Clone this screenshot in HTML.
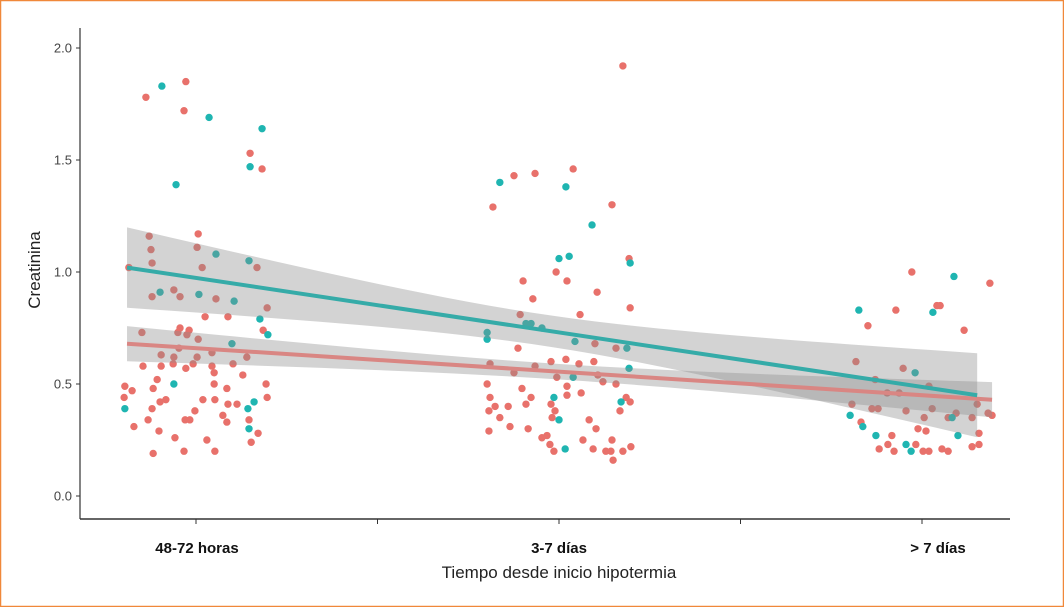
<!DOCTYPE html>
<html><head><meta charset="utf-8"><style>
html,body{margin:0;padding:0;background:#fff;}
svg{display:block;font-family:"Liberation Sans","DejaVu Sans",sans-serif;}
</style></head><body>
<svg id="chart" width="1064" height="607" viewBox="0 0 1064 607" xmlns="http://www.w3.org/2000/svg">
<rect x="0.5" y="0.5" width="1063" height="606" fill="#fff" stroke="#f0883a" stroke-width="1.5"/>
<g id="pts"></g>
<g id="bands"></g>
<g id="lines"></g>
<g id="axes"></g>
<text x="40" y="270" transform="rotate(-90 40 270)" text-anchor="middle" font-size="17" fill="#222">Creatinina</text>
<text x="559" y="578" text-anchor="middle" font-size="17" fill="#222">Tiempo desde inicio hipotermia</text>
</svg>
<script>
const categories = ["48-72 horas", "3-7 días", "> 7 días"];
const yTicks = [0.0, 0.5, 1.0, 1.5, 2.0];
const ptsX = [0.862,0.906,0.972,0.967,1.036,1.182,1.149,1.149,1.182,0.945,1.006,0.871,1.003,0.876,1.055,1.146,1.168,0.879,1.017,0.815,0.879,0.901,0.939,0.956,1.008,1.055,1.105,1.196,1.025,1.088,1.176,1.185,1.198,0.851,0.956,0.950,0.981,0.975,1.006,1.099,0.953,1.044,0.904,1.003,1.140,0.939,0.854,0.904,0.937,0.972,0.992,1.044,1.102,1.050,1.129,0.893,1.050,0.939,1.193,0.804,0.882,0.824,1.085,0.802,0.917,0.901,1.019,1.052,1.196,1.160,0.804,0.879,0.997,1.088,1.113,1.143,0.868,0.970,0.983,1.074,1.085,1.146,0.829,1.146,1.171,0.898,0.942,1.030,1.152,0.882,0.967,1.052,
2.176,2.039,1.934,1.876,1.837,2.019,1.818,2.146,2.091,2.000,2.028,2.193,2.196,1.992,2.022,1.901,2.105,1.928,2.196,1.893,2.058,1.909,1.923,1.953,1.802,1.802,1.887,2.044,2.099,2.157,2.187,1.810,1.876,1.934,1.978,2.019,2.055,2.096,2.193,1.994,2.039,2.107,2.121,2.157,1.802,1.898,2.022,2.022,2.061,1.810,1.923,1.986,2.185,1.824,1.860,1.909,1.978,2.171,2.196,1.807,1.989,2.168,1.837,1.981,2.000,2.083,1.865,1.807,1.915,2.102,1.953,1.967,2.066,2.146,1.975,1.986,2.017,2.094,2.129,2.143,2.176,2.198,2.149,
2.972,3.088,3.187,2.826,2.928,3.041,3.050,3.030,2.851,3.116,2.818,2.948,2.981,2.871,3.019,2.904,2.937,2.807,2.862,2.879,2.956,3.028,3.094,3.072,3.083,3.138,3.182,3.193,3.006,3.152,2.802,2.832,2.837,2.989,3.011,2.873,2.917,3.099,3.157,2.906,2.983,2.956,2.882,2.923,2.970,3.003,3.019,3.055,3.072,3.138,3.157];
const ptsY = [1.78,1.83,1.85,1.72,1.69,1.64,1.53,1.47,1.46,1.39,1.17,1.16,1.11,1.10,1.08,1.05,1.02,1.04,1.02,1.02,0.89,0.91,0.92,0.89,0.90,0.88,0.87,0.84,0.80,0.80,0.79,0.74,0.72,0.73,0.75,0.73,0.74,0.72,0.70,0.68,0.66,0.64,0.63,0.62,0.62,0.62,0.58,0.58,0.59,0.57,0.59,0.58,0.59,0.55,0.54,0.52,0.50,0.50,0.50,0.49,0.48,0.47,0.48,0.44,0.43,0.42,0.43,0.43,0.44,0.42,0.39,0.39,0.38,0.41,0.41,0.39,0.34,0.34,0.34,0.36,0.33,0.34,0.31,0.30,0.28,0.29,0.26,0.25,0.24,0.19,0.20,0.20,
1.92,1.46,1.44,1.43,1.40,1.38,1.29,1.30,1.21,1.06,1.07,1.06,1.04,1.00,0.96,0.96,0.91,0.88,0.84,0.81,0.81,0.77,0.77,0.75,0.73,0.70,0.66,0.69,0.68,0.66,0.66,0.59,0.55,0.58,0.60,0.61,0.59,0.60,0.57,0.53,0.53,0.54,0.51,0.50,0.50,0.48,0.49,0.45,0.46,0.44,0.44,0.44,0.44,0.40,0.40,0.41,0.41,0.42,0.42,0.38,0.38,0.38,0.35,0.35,0.34,0.34,0.31,0.29,0.30,0.30,0.26,0.27,0.25,0.25,0.23,0.20,0.21,0.21,0.20,0.20,0.20,0.22,0.16,
1.00,0.98,0.95,0.83,0.83,0.85,0.85,0.82,0.76,0.74,0.60,0.57,0.55,0.52,0.49,0.46,0.46,0.41,0.39,0.39,0.38,0.39,0.37,0.35,0.35,0.35,0.37,0.36,0.35,0.41,0.36,0.33,0.31,0.30,0.29,0.27,0.27,0.27,0.28,0.23,0.23,0.23,0.21,0.20,0.20,0.20,0.20,0.21,0.20,0.22,0.23];
const ptsGroup = "rtrrttrtrt" + "rrrrttrrrr" + "rtrrtrtrrr" + "trtrrrrrrt" + "rrrrrrrrrrrrrrrrr" + "t" + "rrrrrrrrrrr" + "tt" + "rrrr" + "t" + "rrrrrrr" + "t" + "rrrrrrrr"
 + "rrrrttrrtt" + "trtrrrrrrr" + "rtttttrtrr" + "trrrrrrrtr" + "trrrrrrrrr" + "rtrrrrrtrr" + "rrrrtrrrrr" + "rrrrrrtrrr" + "rrr"
 + "rtrtrrrtrr" + "rrtrrrrrrr" + "rrrrtrrrrr" + "trtrrtrtrr" + "rtrrtrrrrr" + "r";
const fitGroups = ["r", "t"];
const fitIntercept = [0.765, 1.217];
const fitSlope = [-0.105, -0.2434];
const fitRange = [[0.81, 3.193], [0.81, 3.152]];
const seBase = [0.0012, 0.0049];
const seCurve = [0.0035, 0.0210];
const seCenter = [2.0, 1.95];

const NS = "http://www.w3.org/2000/svg";
const X0 = 80, X1 = 1010;
function xs(v){ return 196 + (v - 1) * 363; }
function ys(v){ return 496 - v * 224; }
function mk(tag, attrs, parent){ const e = document.createElementNS(NS, tag); for (const k in attrs) e.setAttribute(k, attrs[k]); parent.appendChild(e); return e; }
const colors = { r: "#e8716b", t: "#1fb5b1" };
const lineColors = { r: "#d98683", t: "#35aba8" };

const pg = document.getElementById("pts");
for (let i = 0; i < ptsX.length; i++) {
  const g = ptsGroup[i] || "r";
  const c = mk("circle", { cx: xs(ptsX[i]), cy: ys(ptsY[i]), r: 3.7, fill: colors[g] }, pg);
  
  
}
const bg = document.getElementById("bands"), lg = document.getElementById("lines");
for (let k = 0; k < fitGroups.length; k++) {
  const [a, b] = fitRange[k]; const n = 40; const up = [], lo = [];
  for (let j = 0; j <= n; j++) {
    const x = a + (b - a) * j / n; const m = fitIntercept[k] + fitSlope[k] * x;
    const se = Math.sqrt(seBase[k] + seCurve[k] * (x - seCenter[k]) ** 2);
    up.push(xs(x) + "," + ys(m + se)); lo.unshift(xs(x) + "," + ys(m - se));
  }
  const band = mk("polygon", { points: up.concat(lo).join(" "), fill: "rgba(140,140,140,0.38)" }, bg);
  
  
  const ln = mk("line", { x1: xs(a), y1: ys(fitIntercept[k] + fitSlope[k] * a), x2: xs(b), y2: ys(fitIntercept[k] + fitSlope[k] * b), stroke: lineColors[fitGroups[k]], "stroke-width": 4 }, lg);
  
  
}
const ag = document.getElementById("axes");
const ya = mk("line", { x1: X0, y1: 28, x2: X0, y2: 519, stroke: "#333", "stroke-width": 1.2 }, ag);


const xa = mk("line", { x1: X0, y1: 519, x2: X1, y2: 519, stroke: "#333", "stroke-width": 1.5 }, ag);


yTicks.forEach(v => {
  const t = mk("line", { x1: X0 - 4, y1: ys(v), x2: X0, y2: ys(v), stroke: "#333" }, ag);
  
  
  const tx = mk("text", { x: X0 - 8, y: ys(v) + 4.5, "text-anchor": "end", "font-size": 13, fill: "#444" }, ag);
  tx.textContent = v.toFixed(1);
  
  
});
[1, 1.5, 2, 2.5, 3].forEach(v => {
  const t = mk("line", { x1: xs(v), y1: 519, x2: xs(v), y2: 524, stroke: "#333" }, ag);
  
  
});
const labelX = [197, 559, 938];
categories.forEach((c, i) => {
  const tx = mk("text", { x: labelX[i], y: 553, "text-anchor": "middle", "font-size": 15, "font-weight": "bold", fill: "#111" }, ag);
  tx.textContent = c;
  
  
});
</script>
</body></html>
